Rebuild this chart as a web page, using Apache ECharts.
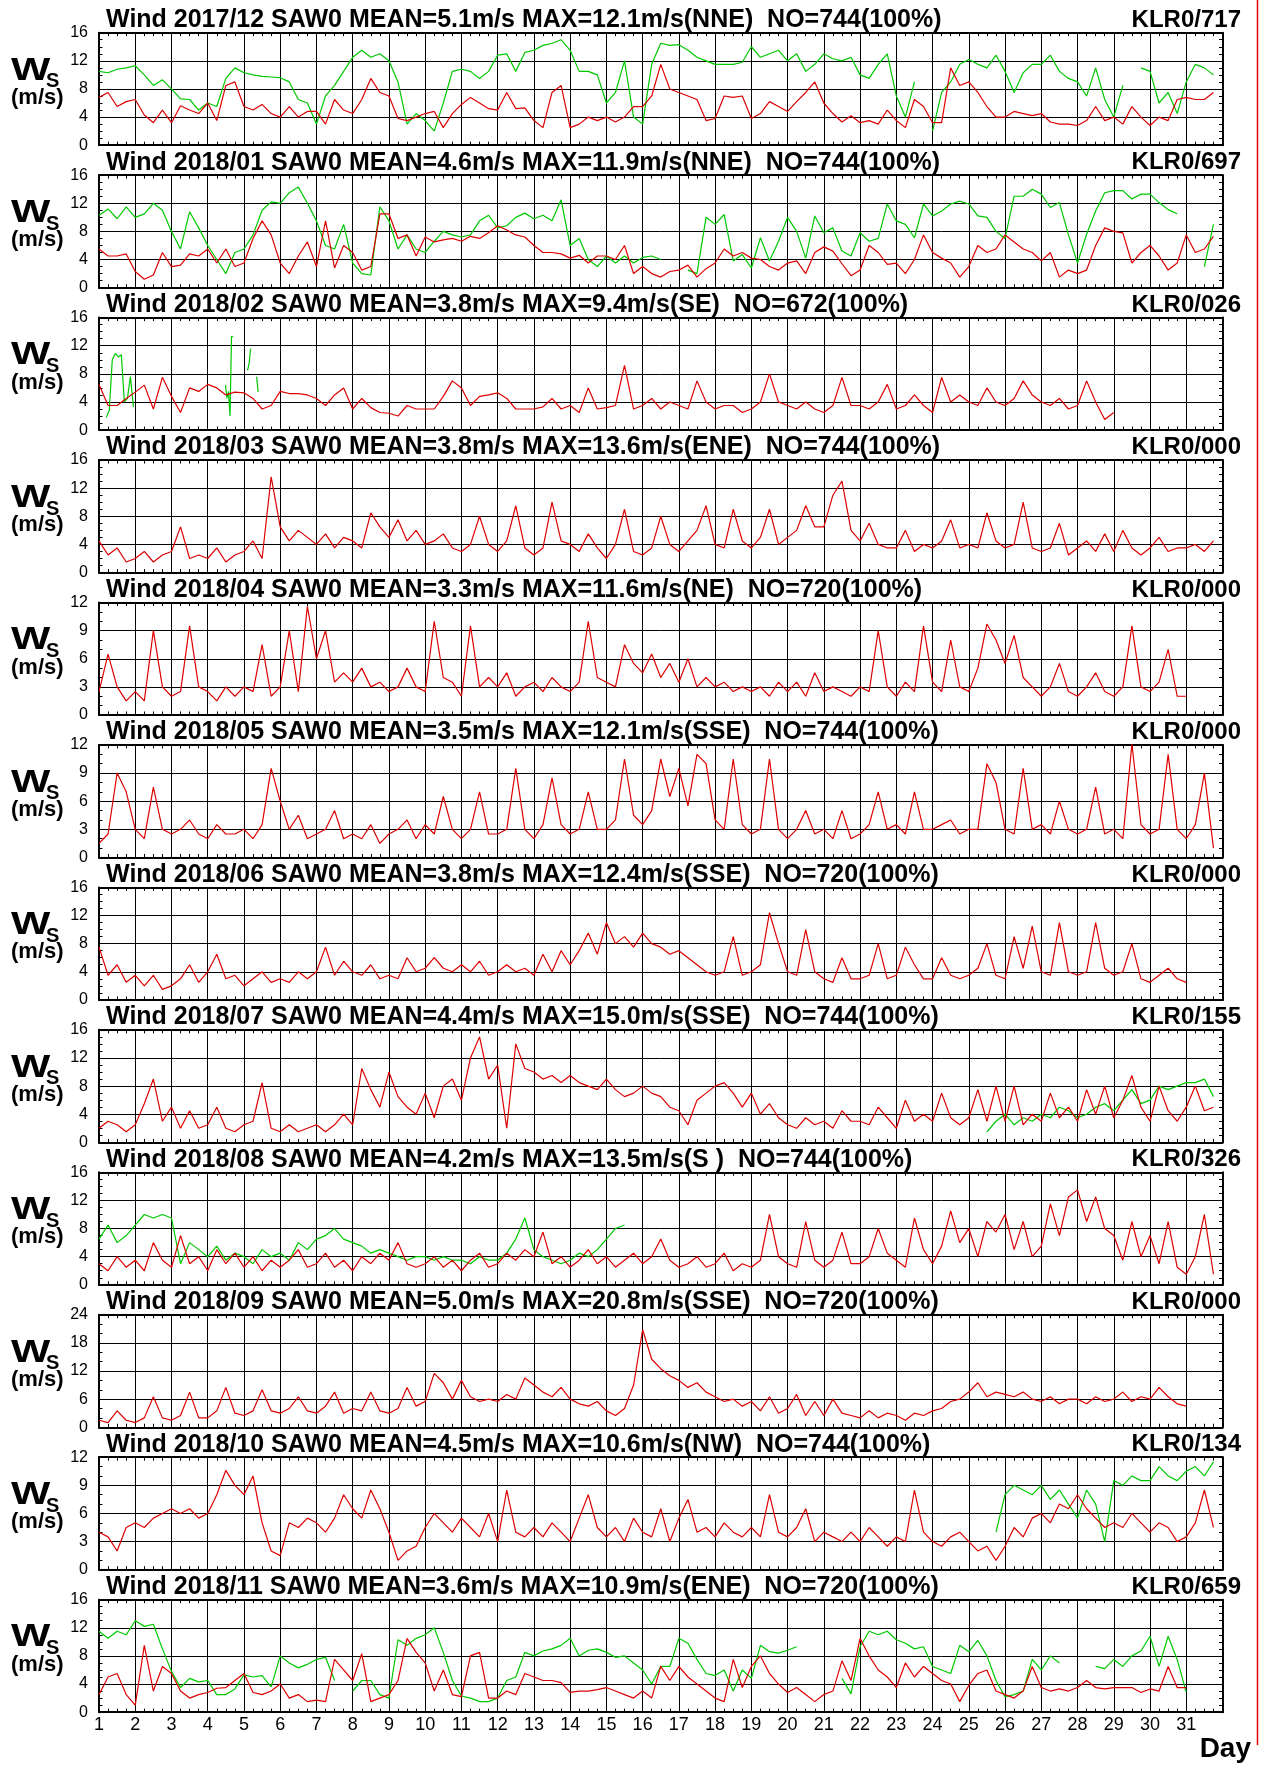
<!DOCTYPE html>
<html><head><meta charset="utf-8">
<script src="https://cdn.jsdelivr.net/npm/echarts@6/dist/echarts.min.js"></script>
<style>html,body{margin:0;padding:0;background:#fff}#c{width:1261px;height:1767px}</style>
</head><body><div id="c"></div>
<script>
// ---------------- labels ----------------
const dayLabels = ['1','2','3','4','5','6','7','8','9','10','11','12','13','14','15','16','17','18','19','20','21','22','23','24','25','26','27','28','29','30','31'];
const panelMonths = ['2017/12','2018/01','2018/02','2018/03','2018/04','2018/05','2018/06','2018/07','2018/08','2018/09','2018/10','2018/11'];
const panelMean = ['5.1','4.6','3.8','3.8','3.3','3.5','3.8','4.4','4.2','5.0','4.5','3.6'];
const panelMax = ['12.1','11.9','9.4','13.6','11.6','12.1','12.4','15.0','13.5','20.8','10.6','10.9'];
const panelMaxDir = ['NNE','NNE','SE','ENE','NE','SSE','SSE','SSE','S ','SSE','NW','ENE'];
const panelCount = ['744','744','672','744','720','744','720','744','744','720','744','720'];
const panelCode = ['KLR0/717','KLR0/697','KLR0/026','KLR0/000','KLR0/000','KLR0/000','KLR0/000','KLR0/155','KLR0/326','KLR0/000','KLR0/134','KLR0/659'];
const yMaxes = [16,16,16,16,12,12,16,16,16,24,12,16];
const yIntervals = [4,4,4,4,3,3,4,4,4,6,3,4];

// ---------------- data (6-hourly from day 1, m/s) ----------------
const dec2017Red = [6.8,7.5,5.5,6.2, 6.5,4.3,3.2,5.0, 3.2,5.6,5.0,4.5, 6.0,3.5,8.5,9.0, 5.5,5.0,5.8,4.5, 4.0,5.5,4.0,4.8, 4.8,3.0,6.5,5.0, 4.5,6.5,9.5,7.5, 7.0,3.8,3.5,4.0, 4.5,4.8,2.5,4.5, 5.8,6.8,6.0,5.2, 5.0,7.5,5.2,5.3, 3.5,2.5,7.5,8.5, 2.5,3.0,4.0,3.5, 4.0,3.3,4.0,5.5, 5.5,7.0,11.5,8.0, 7.5,7.0,6.5,3.5, 3.8,7.0,6.8,7.0, 3.8,4.5,6.2,5.5, 4.8,6.2,7.5,9.0, 6.0,4.5,3.3,4.2, 3.2,3.5,3.0,5.0, 3.5,2.5,6.5,5.5, 3.2,3.2,11.0,8.5, 9.0,7.5,5.5,4.0, 4.0,4.8,4.5,4.2, 4.5,3.3,3.0,3.0, 2.8,3.5,5.5,3.5, 4.0,3.0,5.5,4.0, 2.8,4.0,3.5,6.5, 6.8,6.5,6.5,7.5];
const dec2017Green = [10.5,10.3,10.8,11.0, 11.3,10.0,8.5,9.3, 8.0,6.6,6.5,5.0, 6.0,5.5,9.5,11.0, 10.3,10.0,9.8,9.7, 9.6,9.0,6.5,6.0, 3.0,7.0,8.5,10.5, 12.5,13.5,12.5,13.0, 12.0,9.0,3.0,4.5, 3.5,2.0,6.0,10.5, 10.8,10.5,9.5,10.5, 12.8,13.0,10.5,13.2, 13.5,14.2,14.5,15.0, 13.5,10.5,10.5,10.0, 6.0,7.5,12.0,4.0, 3.0,11.5,14.5,14.2, 14.3,13.5,12.5,12.0, 11.5,11.5,11.5,11.8, 14.0,12.5,13.0,13.5, 12.0,13.0,10.5,11.5, 13.0,12.3,12.0,12.5, 10.0,9.5,11.5,13.0, 7.0,4.0,9.0,null, 2.0,7.5,9.0,11.5, 12.2,11.5,11.0,12.8, 10.5,7.5,10.3,11.5, 11.5,12.8,10.5,9.5, 9.0,7.0,11.0,6.5, 4.0,8.5,null,11.0, 10.5,6.0,7.5,4.5, 9.0,11.5,11.0,10.0];
const jan2018Red = [5.5,4.5,4.5,4.8, 2.3,1.2,1.8,5.0, 3.0,3.2,4.8,4.5, 5.5,3.5,5.5,3.0, 3.5,7.0,9.5,7.5, 3.5,2.0,4.5,6.5, 3.0,9.5,2.8,6.0, 5.0,2.5,3.0,10.5, 10.5,7.0,7.5,4.5, 7.2,6.5,6.8,7.0, 6.6,7.3,7.0,7.8, 8.8,8.2,7.5,7.2, 6.0,5.0,5.0,4.8, 4.2,4.6,3.5,4.5, 4.5,4.0,6.0,2.0, 3.0,2.0,1.5,2.3, 2.5,3.2,1.5,2.7, 3.5,5.5,4.5,5.0, 4.2,4.0,3.0,2.5, 3.5,3.8,2.0,5.0, 5.8,5.2,3.4,1.7, 2.5,6.0,5.0,3.3, 3.5,2.0,4.0,7.5, 5.0,4.2,3.5,1.5, 3.0,6.0,5.0,5.5, 7.5,6.5,5.5,5.0, 3.8,5.0,1.5,2.5, 2.0,2.5,6.0,8.5, 8.0,7.8,3.5,5.0, 6.0,4.5,2.5,3.5, 7.5,5.0,5.5,7.3];
const jan2018Green = [10.3,11.2,9.8,11.5, 10.0,10.5,12.0,11.0, 8.0,5.5,10.8,8.5, 6.0,4.0,2.0,5.0, 5.5,7.5,11.0,12.2, 12.0,13.5,14.3,12.0, 9.5,6.0,5.5,9.0, 3.5,2.0,1.8,11.5, 9.5,5.5,7.5,5.5, 5.0,6.6,8.0,7.5, 7.2,7.5,9.5,10.3, 8.5,8.8,10.0,10.6, 9.8,10.3,9.5,12.5, 6.0,7.0,4.0,3.0, 4.5,3.5,4.5,3.5, 4.3,4.5,4.0,null, null,2.5,2.0,10.0, 9.0,10.4,3.8,4.7, 2.8,7.1,3.8,6.6, 10.0,8.0,4.2,10.2, 7.8,8.5,5.2,4.5, 7.8,6.6,7.0,11.9, 9.5,9.0,7.1,11.9, 10.2,10.9,11.9,12.3, 11.9,10.2,10.0,8.0, 7.0,13.0,13.0,14.0, 13.3,11.4,12.1,7.5, 3.5,7.6,10.9,13.5, 13.8,13.8,12.6,13.3, 13.3,12.1,11.1,10.5, null,null,3.0,9.0];
const feb2018Red = [6.5,3.5,3.5,4.5, 5.4,6.4,3.0,7.5, 4.8,2.5,6.0,5.5, 6.5,6.0,5.0,5.4, 5.3,4.5,3.0,3.5, 5.5,5.2,5.2,5.0, 4.5,3.5,5.0,6.0, 3.0,4.5,3.2,2.5, 2.4,2.0,3.5,3.0, 3.0,3.0,4.8,7.0, 6.0,3.5,4.8,5.0, 5.3,4.5,3.0,3.0, 3.0,3.3,4.5,3.0, 3.5,2.5,6.0,3.0, 3.2,3.5,9.2,3.0, 3.5,4.5,3.0,4.0, 3.5,3.0,7.0,4.0, 3.0,3.5,3.5,2.5, 3.0,4.0,8.0,4.0, 3.5,3.0,4.0,3.0, 2.5,3.5,7.5,3.5, 3.5,3.0,4.0,6.5, 3.0,3.5,5.0,3.5, 2.5,7.5,4.0,5.0, 4.0,3.5,6.0,4.0, 3.5,4.5,7.0,5.0, 4.0,3.5,4.5,3.0, 3.5,7.0,4.0,1.5, 2.5];
// green fragments in Feb 2018 (2-hourly / hourly pieces)
const feb2018GreenA = [1.8,2.8,10.0,10.9,10.4,10.7,4.0,4.5,7.6,3.3];
const feb2018GreenB = [6.4,4.5,5.5,2.0,13.3,13.3];
const feb2018GreenC = [8.5,9.5,11.6];
const feb2018GreenD = [7.6,5.4];
const mar2018Red = [4.5,2.5,3.5,1.5, 2.0,3.0,1.5,2.5, 3.0,6.5,2.0,2.5, 2.0,3.5,1.5,2.5, 3.0,4.5,2.0,13.6, 6.5,4.5,6.0,5.0, 4.0,5.5,3.5,5.0, 4.5,3.5,8.5,6.5, 5.0,7.5,4.5,6.0, 4.0,4.5,5.5,3.5, 3.0,4.0,8.0,4.0, 3.0,4.5,9.5,3.5, 2.5,3.5,10.0,4.5, 4.0,3.0,5.5,3.5, 2.0,4.0,9.0,3.0, 2.5,3.5,8.0,4.0, 3.0,4.5,6.0,9.5, 4.0,3.5,9.0,4.5, 3.5,5.0,9.0,4.0, 5.0,6.0,9.5,6.5, 6.5,11.0,13.0,6.0, 4.5,7.0,4.0,3.5, 3.5,6.0,3.0,4.0, 3.5,4.5,7.5,3.5, 4.0,3.5,8.5,4.5, 3.5,4.0,10.0,3.5, 3.0,3.5,7.0,2.5, 3.5,4.5,3.0,5.5, 3.0,6.0,3.5,2.5, 3.5,5.0,3.0,3.5, 3.5,4.0,3.0,4.5];
const apr2018Red = [2.5,6.5,3.0,1.5, 2.5,1.5,9.0,3.0, 2.0,2.5,9.5,3.0, 2.5,1.5,3.0,2.0, 3.0,2.5,7.5,2.0, 3.0,9.0,2.5,11.6, 6.0,9.0,3.5,4.5, 3.5,5.0,3.0,3.5, 2.5,3.0,5.0,3.0, 2.5,10.0,4.0,3.5, 2.0,9.5,3.0,4.0, 3.0,4.5,2.0,3.0, 3.5,2.5,4.0,3.0, 2.5,3.5,10.0,4.0, 3.5,3.0,7.5,5.5, 4.5,6.5,4.0,5.5, 3.5,6.0,3.0,4.0, 3.0,3.5,2.5,3.0, 2.5,3.0,2.0,3.5, 2.5,3.5,2.0,4.5, 2.5,3.0,2.5,2.0, 3.0,2.5,9.0,3.0, 2.0,3.5,2.5,9.5, 3.5,2.5,8.0,3.0, 2.5,5.0,9.7,8.0, 5.5,8.5,4.0,3.0, 2.0,3.0,5.5,2.5, 2.0,3.0,4.5,2.5, 2.0,3.0,9.5,3.0, 2.5,3.5,7.0,2.0, 2.0];
const may2018Red = [1.5,2.5,9.0,7.0, 3.0,2.0,7.5,3.0, 2.5,3.0,4.0,2.5, 2.0,3.5,2.5,2.5, 3.0,2.0,3.5,9.5, 6.0,3.0,4.5,2.0, 2.5,3.0,5.0,2.0, 2.5,2.0,3.5,1.5, 2.5,3.0,4.0,2.0, 3.5,2.5,6.5,3.0, 2.0,3.0,7.0,2.5, 2.5,3.0,9.5,3.0, 2.0,3.5,8.5,3.5, 2.5,3.0,7.0,3.0, 3.0,4.0,10.5,4.5, 3.5,5.0,10.5,6.5, 9.5,5.5,11.0,10.0, 4.0,3.0,10.5,3.5, 2.5,3.0,10.5,3.0, 2.0,3.0,5.0,2.5, 3.0,2.0,5.0,2.0, 2.5,3.5,7.0,3.0, 3.5,2.5,7.0,3.0, 3.0,3.5,4.0,2.5, 3.0,3.0,10.0,8.0, 3.0,2.5,9.5,3.0, 3.5,2.5,6.0,3.0, 2.5,3.0,7.5,2.5, 3.0,2.0,12.1,3.5, 2.5,3.0,11.0,3.0, 2.0,3.5,9.0,1.0];
const jun2018Red = [7.5,3.5,5.0,2.5, 3.5,2.0,3.5,1.5, 2.0,3.0,5.0,2.5, 4.0,6.5,3.0,3.5, 2.0,3.0,4.0,2.5, 3.0,2.5,4.0,3.0, 4.0,7.5,3.5,5.5, 4.0,3.5,5.0,3.0, 3.5,3.0,6.0,4.0, 4.5,6.0,4.5,4.0, 5.0,4.0,5.5,3.5, 4.0,5.0,4.0,4.5, 3.5,6.5,4.0,7.0, 5.0,7.0,9.5,6.5, 11.0,8.0,9.0,7.5, 9.5,8.0,7.5,6.5, 7.0,6.0,5.0,4.0, 3.5,4.0,9.0,3.5, 4.0,5.0,12.4,8.0, 4.0,3.5,10.0,4.0, 3.0,2.5,6.0,3.0, 3.0,3.5,8.0,3.0, 3.5,7.5,5.0,3.0, 3.0,6.0,3.5,3.0, 3.5,4.5,8.0,3.5, 3.0,9.0,4.5,10.5, 4.0,3.5,11.0,4.0, 3.5,4.0,11.0,4.5, 3.5,4.0,8.0,3.0, 2.5,3.5,4.5,3.0, 2.5];
const jul2018Red = [2.0,3.0,2.5,1.5, 2.5,5.5,9.0,3.0, 5.0,2.0,4.5,2.0, 2.5,5.0,2.0,1.5, 2.5,3.0,8.5,2.0, 1.5,2.5,1.5,2.0, 2.5,1.5,2.5,4.0, 2.5,10.5,7.5,5.0, 10.0,6.5,5.0,4.0, 7.0,3.5,8.0,9.0, 6.0,12.0,15.0,9.0, 11.0,2.0,14.0,10.5, 10.0,9.0,9.5,8.5, 9.5,8.5,8.0,7.5, 9.0,7.5,6.5,7.0, 8.0,7.0,6.5,5.0, 4.5,2.5,6.0,7.0, 8.0,8.5,7.0,5.0, 7.0,4.0,5.5,3.5, 2.5,2.0,3.5,2.5, 3.0,2.0,4.5,3.0, 3.0,2.5,5.0,3.5, 2.0,6.0,3.0,4.0, 3.0,7.0,3.5,2.5, 3.5,7.5,3.0,8.0, 3.0,8.0,2.5,4.0, 3.0,7.0,3.5,5.0, 3.0,7.5,4.0,8.0, 3.5,6.0,9.5,5.0, 3.0,8.0,4.5,3.0, 5.0,8.0,4.5,5.0];
const jul2018Green = [1.5,3.0,4.0,2.5, 3.5,3.0,4.0,3.5, 5.0,4.5,3.5,4.0, 5.0,5.5,4.5,6.0, 7.5,5.5,6.0,8.0, 7.5,8.0,8.5,8.5, 9.0,6.5];
const aug2018Red = [3.0,2.0,4.0,2.5, 3.5,2.0,6.0,3.5, 2.5,7.0,3.0,4.0, 2.0,5.0,3.0,4.5, 2.5,4.0,2.0,3.5, 2.5,3.5,5.0,2.5, 3.0,4.5,2.5,3.5, 2.0,4.0,3.0,4.5, 3.5,6.0,3.0,2.5, 3.0,4.0,2.5,3.5, 2.0,3.5,4.5,2.5, 3.0,4.5,3.5,5.0, 4.0,7.5,3.0,4.0, 2.5,3.5,5.0,3.0, 4.0,2.5,3.5,4.5, 3.0,4.0,6.5,3.5, 2.5,3.0,4.0,2.5, 3.0,4.5,2.0,3.0, 2.5,3.5,10.0,4.0, 3.0,2.5,9.0,3.5, 2.5,3.5,7.5,3.0, 3.0,4.0,8.0,4.5, 3.5,2.5,9.5,5.0, 3.0,5.5,10.5,6.0, 8.0,4.0,9.0,7.5, 10.0,5.0,9.0,4.0, 5.5,11.5,7.0,12.5, 13.5,9.0,12.5,8.0, 7.0,3.5,9.0,4.0, 7.0,3.0,9.0,2.5, 1.5,4.0,10.0,1.5];
const aug2018Green = [6.5,8.5,6.0,7.0, 8.5,10.0,9.5,10.0, 9.5,3.0,6.0,5.0, 4.0,5.5,3.5,4.5, 4.0,3.0,5.0,4.0, 4.5,3.5,6.0,5.0, 6.5,7.0,8.0,6.5, 6.0,5.5,4.5,5.0, 4.5,4.0,3.5,4.0, 4.0,3.5,4.0,3.5, 3.5,3.0,4.0,3.5, 3.5,4.5,6.5,9.5, 5.0,4.0,3.5,3.0, 3.5,4.5,4.0,5.0, 6.5,8.0,8.5];
const sep2018Red = [1.5,1.0,3.5,1.5, 1.0,2.0,6.5,2.0, 1.5,2.5,7.5,2.0, 2.0,3.5,8.5,3.0, 2.5,3.5,8.0,3.5, 3.0,4.0,6.5,3.5, 3.0,4.5,7.5,3.0, 4.0,3.5,7.5,3.5, 3.0,4.0,8.5,4.5, 5.5,11.5,9.5,6.0, 10.0,6.5,5.5,6.0, 5.5,7.0,6.0,10.5, 9.0,7.5,6.5,8.5, 6.0,5.0,4.5,5.5, 3.5,2.5,4.0,9.0, 20.8,14.5,12.5,11.0, 10.0,8.5,9.5,7.5, 6.5,5.5,6.0,4.5, 5.5,3.5,6.5,3.0, 4.0,7.0,2.5,5.5, 2.5,6.0,3.0,2.5, 2.0,3.5,2.0,3.0, 2.5,1.5,3.0,2.5, 3.5,4.0,5.5,6.0, 7.5,9.5,6.5,7.5, 7.0,6.5,7.5,6.0, 5.5,6.5,5.0,6.0, 6.0,5.0,6.5,5.5, 6.0,7.5,5.5,6.5, 6.0,8.5,6.5,5.0, 4.5];
const oct2018Red = [4.0,3.5,2.0,4.5, 5.0,4.5,5.5,6.0, 6.5,6.0,6.5,5.5, 6.0,8.0,10.6,9.0, 8.0,10.0,5.0,2.0, 1.5,5.0,4.5,5.5, 5.0,4.0,5.5,8.0, 6.5,5.5,8.5,6.5, 4.0,1.0,2.0,2.5, 4.5,6.0,5.0,4.0, 5.5,4.5,3.5,6.0, 3.0,8.5,4.0,3.5, 4.5,3.5,5.0,4.0, 3.0,5.5,8.0,4.5, 3.5,4.5,3.0,5.5, 4.0,3.5,6.5,3.0, 5.5,7.5,4.0,4.5, 3.5,5.0,4.0,3.5, 4.5,3.5,8.0,4.0, 3.5,4.5,6.5,3.0, 4.0,3.5,3.0,4.0, 3.0,4.5,3.5,2.5, 3.5,3.0,8.5,4.0, 3.0,2.5,3.5,4.0, 3.0,2.0,2.5,1.0, 2.5,4.5,3.5,5.5, 6.0,5.0,7.0,6.5, 8.0,6.5,5.5,4.5, 5.0,4.5,6.0,5.0, 4.0,5.0,4.5,3.0, 3.5,5.0,8.5,4.5];
const oct2018Green = [4.0,8.0,9.0,8.5, 8.0,9.0,7.5,8.5, 7.0,5.5,8.5,7.0, 3.0,9.5,9.0,10.0, 9.5,9.5,11.0,10.0, 9.5,10.5,11.0,10.0, 11.5];
const nov2018Red = [2.5,5.0,5.5,2.5, 1.0,9.5,3.0,6.5, 5.5,3.0,2.0,2.5, 2.8,3.4,3.5,4.5, 5.5,2.8,2.5,3.0, 4.0,2.0,2.5,1.5, 1.7,1.5,7.5,6.0, 4.5,8.3,1.5,2.0, 2.5,4.5,10.5,8.5, 7.0,3.0,6.0,2.5, 2.2,8.0,8.5,2.0, 2.0,3.0,2.5,5.5, 5.0,4.5,4.5,4.2, 2.8,3.0,3.0,3.2, 3.5,3.0,2.5,2.0, 3.0,2.0,6.5,4.5, 6.5,5.0,4.0,3.0, 2.0,1.5,7.5,3.5, 6.5,8.0,5.5,4.0, 2.8,3.5,2.5,1.5, 2.5,3.0,7.3,4.5, 10.5,8.0,6.0,5.0, 3.5,7.0,5.0,6.5, 5.5,4.5,4.0,1.5, 3.8,5.5,6.0,3.0, 2.5,2.0,3.0,6.5, 3.5,3.0,3.3,3.0, 3.5,4.5,3.5,3.3, 3.5,3.5,3.5,2.8, 3.3,3.0,6.5,3.5, 3.5];
const nov2018Green = [11.5,10.5,11.5,11.0, 13.0,12.2,12.5,9.0, 5.8,3.5,4.8,4.3, 4.5,2.5,2.5,3.3, 5.3,5.0,5.2,3.6, 8.0,7.0,6.3,6.8, 7.5,7.8,4.5,null, 3.0,4.5,4.5,2.5, 2.0,10.3,9.5,10.5, 11.0,12.0,8.5,4.5, 2.3,2.0,1.5,1.5, 2.0,4.5,5.0,8.5, 8.0,8.7,9.0,9.5, 10.5,8.0,8.8,9.0, 8.5,7.8,8.0,7.0, 6.0,4.0,6.5,6.5, 10.5,9.8,7.5,5.5, 5.2,6.0,3.0,6.0, 4.8,9.5,8.6,8.4, 8.8,9.3,null,null, null,null,4.8,2.6, 9.3,11.5,11.0,11.5, 10.3,9.8,9.0,9.3, 6.5,6.0,5.5,9.5, 8.6,10.2,8.0,4.5, 2.2,2.5,3.0,7.5, 6.0,8.0,7.0,null, null,null,6.5,6.2, 7.5,6.5,8.0,8.7, 10.8,6.5,10.8,7.5, 2.8];

// series definitions: [panel, color, startDay, stepHours, values]
const RED = '#dd0000', GREEN = '#00c800';
const seriesDefs = [
  [0, GREEN, 1, 6, dec2017Green], [0, RED, 1, 6, dec2017Red],
  [1, GREEN, 1, 6, jan2018Green], [1, RED, 1, 6, jan2018Red],
  [2, GREEN, 1.2, 2, feb2018GreenA], [2, GREEN, 4.49, 1, feb2018GreenB],
  [2, GREEN, 5.1, 1, feb2018GreenC], [2, GREEN, 5.35, 1, feb2018GreenD],
  [2, RED, 1, 6, feb2018Red],
  [3, RED, 1, 6, mar2018Red],
  [4, RED, 1, 6, apr2018Red],
  [5, RED, 1, 6, may2018Red],
  [6, RED, 1, 6, jun2018Red],
  [7, GREEN, 25.5, 6, jul2018Green], [7, RED, 1, 6, jul2018Red],
  [8, GREEN, 1, 6, aug2018Green], [8, RED, 1, 6, aug2018Red],
  [9, RED, 1, 6, sep2018Red],
  [10, GREEN, 25.75, 6, oct2018Green], [10, RED, 1, 6, oct2018Red],
  [11, GREEN, 1, 6, nov2018Green], [11, RED, 1, 6, nov2018Red]
];

// ---------------- layout ----------------
const GL = 99, GW = 1123.5, GT0 = 32.7, GP = 142.45, GH = 112.5;
const FONT = '"Liberation Sans", Arial, sans-serif';

const grids = [], xAxes = [], yAxes = [], series = [], graphics = [];
for (let i = 0; i < 12; i++) {
  const top = GT0 + i * GP;
  grids.push({left: GL, top: top, width: GW, height: GH, show: false});
  const tickCommon = {show: true, inside: true, length: 6, lineStyle: {color: '#000', width: 1}};
  const minorCommon = (n) => ({show: true, splitNumber: n, length: 3.5, lineStyle: {color: '#000', width: 1}});
  xAxes.push({
    gridIndex: i, type: 'value', min: 1, max: 32, interval: 1, position: 'bottom',
    axisLine: {show: true, onZero: false, lineStyle: {color: '#000', width: 2}},
    axisTick: tickCommon, minorTick: minorCommon(4),
    splitLine: {show: true, lineStyle: {color: '#000', width: 1}},
    axisLabel: {show: i === 11, fontSize: 18, color: '#000', fontFamily: FONT, margin: 4,
      formatter: v => (v >= 1 && v <= 31) ? dayLabels[v - 1] : ''}
  });
  xAxes.push({
    gridIndex: i, type: 'value', min: 1, max: 32, interval: 1, position: 'top',
    axisLine: {show: true, onZero: false, lineStyle: {color: '#000', width: 2}},
    axisTick: tickCommon, minorTick: minorCommon(4),
    splitLine: {show: false}, axisLabel: {show: false}
  });
  const ym = yMaxes[i], yi = yIntervals[i];
  const ysplit = yi === 6 ? 3 : yi;
  yAxes.push({
    gridIndex: i, type: 'value', min: 0, max: ym, interval: yi, position: 'left',
    axisLine: {show: true, onZero: false, lineStyle: {color: '#000', width: 2}},
    axisTick: tickCommon, minorTick: minorCommon(ysplit),
    splitLine: {show: true, lineStyle: {color: '#000', width: 1}},
    axisLabel: {show: true, fontSize: 16, color: '#000', fontFamily: FONT, margin: 11}
  });
  yAxes.push({
    gridIndex: i, type: 'value', min: 0, max: ym, interval: yi, position: 'right',
    axisLine: {show: true, onZero: false, lineStyle: {color: '#000', width: 2}},
    axisTick: tickCommon, minorTick: minorCommon(ysplit),
    splitLine: {show: false}, axisLabel: {show: false}
  });
  // titles
  const title = 'Wind ' + panelMonths[i] + ' SAW0 MEAN=' + panelMean[i] + 'm/s MAX=' + panelMax[i] +
    'm/s(' + panelMaxDir[i] + ')  NO=' + panelCount[i] + '(100%)';
  graphics.push({type: 'text', x: 106, y: top - 12.5, silent: true,
    style: {text: title, fill: '#000', fontSize: 25, fontWeight: 'bold', fontFamily: FONT, align: 'left', verticalAlign: 'middle'}});
  graphics.push({type: 'text', x: 1241, y: top - 12.5, silent: true,
    style: {text: panelCode[i], fill: '#000', fontSize: 24, fontWeight: 'bold', fontFamily: FONT, align: 'right', verticalAlign: 'middle'}});
  // y axis name: W_S (m/s)
  graphics.push({type: 'text', x: 11, y: top + 38, scaleX: 1.3, silent: true,
    style: {text: 'W', fill: '#000', fontSize: 32, fontWeight: 'bold', fontFamily: FONT, align: 'left', verticalAlign: 'middle'}});
  graphics.push({type: 'text', x: 46, y: top + 49, silent: true,
    style: {text: 'S', fill: '#000', fontSize: 20, fontWeight: 'bold', fontFamily: FONT, align: 'left', verticalAlign: 'middle'}});
  graphics.push({type: 'text', x: 11, y: top + 65, silent: true,
    style: {text: '(m/s)', fill: '#000', fontSize: 22, fontWeight: 'bold', fontFamily: FONT, align: 'left', verticalAlign: 'middle'}});
}

seriesDefs.forEach(([p, color, start, stepH, vals]) => {
  const data = vals.map((v, k) => [start + k * stepH / 24, v === null ? '-' : v]);
  series.push({type: 'line', xAxisIndex: 2 * p, yAxisIndex: 2 * p, data: data,
    showSymbol: false, symbol: 'none', connectNulls: false, clip: true, animation: false,
    lineStyle: {color: color, width: 1.2}, itemStyle: {color: color}});
});

graphics.push({type: 'text', x: 1251, y: 1749, silent: true,
  style: {text: 'Day', fill: '#000', fontSize: 28, fontWeight: 'bold', fontFamily: FONT, align: 'right', verticalAlign: 'middle'}});
graphics.push({type: 'line', silent: true, shape: {x1: 1257.5, y1: 0, x2: 1257.5, y2: 1745},
  style: {stroke: '#e00000', lineWidth: 1.5}});

const chart = echarts.init(document.getElementById('c'), null, {renderer: 'canvas'});
chart.setOption({
  animation: false, backgroundColor: '#fff',
  grid: grids, xAxis: xAxes, yAxis: yAxes, series: series, graphic: graphics
});
</script></body></html>
